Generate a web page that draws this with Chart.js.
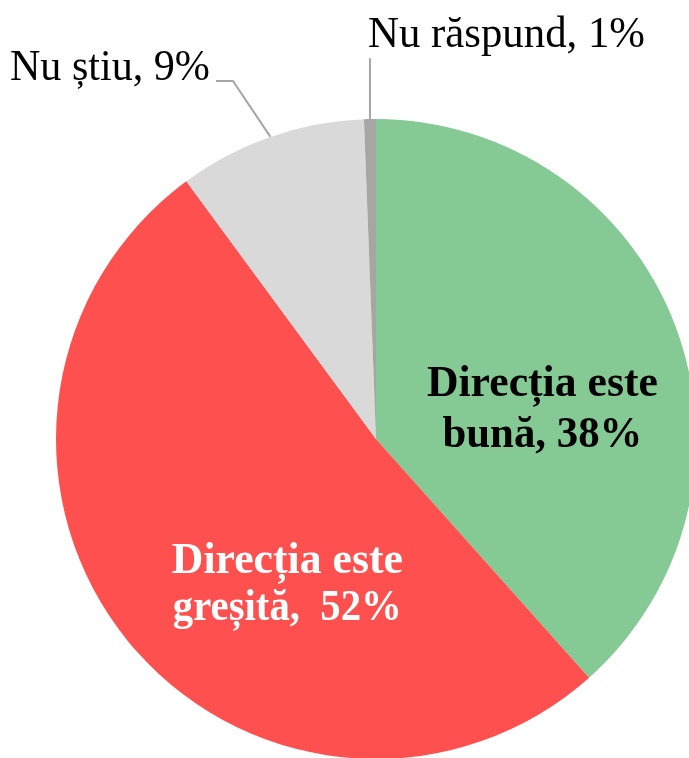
<!DOCTYPE html>
<html>
<head>
<meta charset="utf-8">
<script src="https://cdn.jsdelivr.net/npm/chart.js@4"></script>
<style>
  html, body { margin: 0; padding: 0; background: #fff; overflow: hidden; }
  #wrap { width: 696px; height: 759px; }
</style>
</head>
<body>
<div id="wrap"><canvas id="myChart"></canvas></div>
<script>
const labels = ["Direcția este bună", "Direcția este greșită", "Nu știu", "Nu răspund"]
const values = [38.4, 51.5, 9.5, 0.6]
const shown = ["38%", "52%", "9%", "1%"]
const colors = ["#85C994", "#FF5050", "#D9D9D9", "#A6A6A6"]

// label text lines for each slice
const textLines = [
    ["Direcția este", "bună, " + shown[0]],
    ["Direcția este", "greșită,  " + shown[1]],
    ["Nu știu, " + shown[2]],
    ["Nu răspund, " + shown[3]]
]

const pieLabels = {
    id: "pieLabels",
    afterDatasetsDraw(chart) {
        const ctx = chart.ctx
        const arcs = chart.getDatasetMeta(0).data
        const cx = arcs[0].x, cy = arcs[0].y, r = arcs[0].outerRadius
        ctx.save()
        ctx.textBaseline = "alphabetic"

        // inside labels
        ctx.textAlign = "center"
        ctx.font = "bold 45px 'Liberation Serif', serif"
        ctx.fillStyle = "#000"
        ctx.fillText(textLines[0][0], cx + 0.52 * r, cy - 0.134 * r, 231)
        ctx.fillText(textLines[0][1], cx + 0.52 * r, cy + 0.025 * r, 200)
        ctx.fillStyle = "#fff"
        ctx.fillText(textLines[1][0], cx - 0.277 * r, cy + 0.419 * r, 231)
        ctx.fillText(textLines[1][1], cx - 0.277 * r, cy + 0.566 * r, 229)

        // leader lines
        const edge = (a) => {
            const m = (a.startAngle + a.endAngle) / 2
            return [cx + Math.cos(m) * r, cy + Math.sin(m) * r]
        }
        ctx.strokeStyle = "#A6A6A6"
        ctx.lineWidth = 2
        let p = edge(arcs[2])
        ctx.beginPath()
        ctx.moveTo(cx - 0.5 * r, cy - 1.119 * r)
        ctx.lineTo(cx - 0.447 * r, cy - 1.119 * r)
        ctx.lineTo(p[0], p[1])
        ctx.stroke()
        p = edge(arcs[3])
        ctx.beginPath()
        ctx.moveTo(p[0], cy - 1.19 * r)
        ctx.lineTo(p[0], p[1])
        ctx.stroke()

        // outside labels
        ctx.fillStyle = "#000"
        ctx.font = "44px 'Liberation Serif', serif"
        ctx.textAlign = "right"
        ctx.fillText(textLines[2][0], cx - 0.519 * r, cy - 1.122 * r, 200)
        ctx.textAlign = "left"
        ctx.fillText(textLines[3][0], cx - 0.025 * r, cy - 1.225 * r, 277)
        ctx.restore()
    }
}

new Chart("myChart", {
    type: "pie",
    data: {
        labels: labels,
        datasets: [{
            data: values,
            backgroundColor: colors,
            borderWidth: 0
        }]
    },
    options: {
        responsive: true,
        maintainAspectRatio: false,
        animation: false,
        layout: {padding: {left: 56, top: 119, right: 0, bottom: 0}},
        plugins: {
            legend: {display: false},
            tooltip: {enabled: false}
        }
    },
    plugins: [pieLabels]
})
</script>
</body>
</html>
